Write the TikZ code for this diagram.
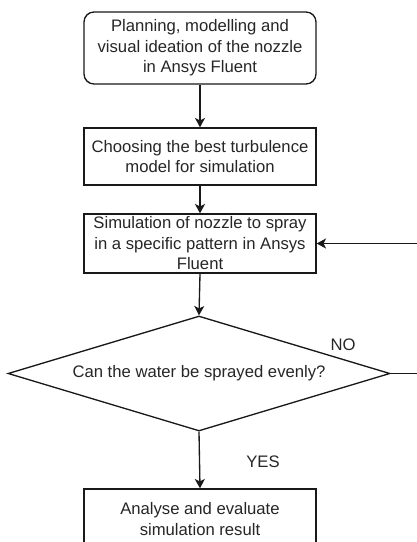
\documentclass[tikz,border=0pt]{standalone}
\usepackage{fontspec}
\setmainfont{Liberation Sans}
\usetikzlibrary{shapes.geometric,arrows.meta}
\begin{document}
\begin{tikzpicture}[x=0.75pt,y=-0.75pt,
  every node/.style={font=\fontsize{12.5pt}{15.4pt}\selectfont, text=black!85},
  procbox/.style={draw=black!90, line width=1pt, minimum width=174pt, inner sep=0pt, align=center},
  decbox/.style={draw=black!90, line width=1pt, shape=diamond, aspect=3.3, inner sep=0pt,
    minimum width=286.5pt, minimum height=86.25pt, align=center},
  flow/.style={draw=black!90, line width=1pt, -{Stealth[length=7pt,width=7.5pt,inset=1.8pt]}},
  lbl/.style={inner sep=0pt}]
\path[use as bounding box, clip] (0,0) rectangle (417,542);
\fill[white] (0,0) rectangle (417,542);
\node[procbox, rounded corners=7.5pt, minimum height=54pt] (box1) at (200,48)
  {Planning, modelling and\\visual ideation of the nozzle\\in Ansys Fluent};
\node[procbox, minimum height=42.75pt] (box2) at (200,156.5)
  {Choosing the best turbulence\\model for simulation};
\node[procbox, minimum height=44.25pt] (box3) at (200,243.5)
  {Simulation of nozzle to spray\\in a specific pattern in Ansys\\Fluent};
\node[decbox] (dec) at (199,373.5) {Can the water be sprayed evenly?};
\node[procbox, minimum height=45pt] (box4) at (200,519)
  {Analyse and evaluate\\simulation result};
\coordinate (loopx) at (432,0);
\draw[flow] (box1.south) -- (box2.north);
\draw[flow] (box2.south) -- (box3.north);
\draw[flow] (box3.south) -- (dec.north);
\draw[flow] (dec.south) -- (box4.north);
\draw[flow] (dec.east) -- (dec.east -| loopx) |- (box3.east);
\node[lbl] (no) at (343,345) {NO};
\node[lbl] (yes) at (263,462) {YES};
\end{tikzpicture}
\end{document}
